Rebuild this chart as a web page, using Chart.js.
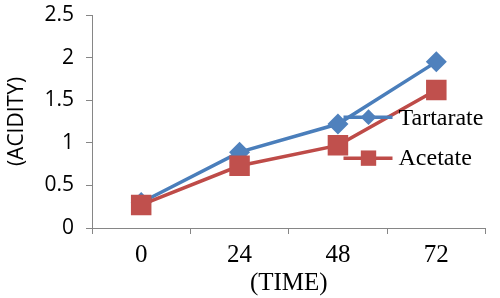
<!DOCTYPE html>
<html>
<head>
<meta charset="utf-8">
<script src="https://cdn.jsdelivr.net/npm/chart.js@4"></script>
<style>
  html, body { margin: 0; padding: 0; background: #fff; overflow: hidden; }
  #wrap { width: 500px; height: 298px; }
</style>
</head>
<body>
<div id="wrap"><canvas id="acidityChart"></canvas></div>
<script>
const times = ['0', '24', '48', '72'];
const tartarate = [0.30, 0.89, 1.22, 1.95];
const acetate = [0.27, 0.73, 0.97, 1.62];
const yTicks = [0, 0.5, 1, 1.5, 2, 2.5];

const serif = '"Liberation Serif", "Times New Roman", Times, serif';
const sans = '"Open Sans", "Liberation Sans", sans-serif';

// legend drawn inside the plot, to the right, like the original
const insideLegend = {
    id: 'insideLegend',
    afterDatasetsDraw(chart) {
        const ctx = chart.ctx;
        const area = chart.chartArea;
        const x0 = area.right - 142;
        const rows = [
            { ds: chart.data.datasets[0], y: chart.scales.y.getPixelForValue(1.3) },
            { ds: chart.data.datasets[1], y: chart.scales.y.getPixelForValue(0.82) }
        ];
        ctx.save();
        rows.forEach(r => {
            ctx.strokeStyle = r.ds.borderColor;
            ctx.lineWidth = r.ds.borderWidth;
            ctx.beginPath();
            ctx.moveTo(x0, r.y);
            ctx.lineTo(x0 + 49, r.y);
            ctx.stroke();
            ctx.fillStyle = r.ds.backgroundColor;
            Chart.helpers.drawPoint(ctx, {
                pointStyle: r.ds.pointStyle,
                radius: r.ds.pointRadius * 0.75,
                borderWidth: 0
            }, x0 + 25, r.y);
            ctx.fillStyle = '#000';
            ctx.font = '24px ' + serif;
            ctx.textBaseline = 'middle';
            ctx.fillText(r.ds.label, x0 + 55, r.y + 1);
        });
        ctx.restore();
    }
};

const ctx = document.getElementById('acidityChart').getContext('2d');
const acidityChart = new Chart(ctx, {
    type: 'line',
    data: {
        labels: times,
        datasets: [{
            label: 'Tartarate',
            data: tartarate,
            borderColor: '#4A7EBB',
            backgroundColor: '#4F81BD',
            borderWidth: 3.5,
            pointStyle: 'rectRot',
            pointRadius: 10.5,
            pointBorderWidth: 0,
            order: 1
        }, {
            label: 'Acetate',
            data: acetate,
            borderColor: '#BE4B48',
            backgroundColor: '#C0504D',
            borderWidth: 3.5,
            pointStyle: 'rect',
            pointRadius: 14.5,
            pointBorderWidth: 0,
            order: 0
        }]
    },
    options: {
        responsive: true,
        maintainAspectRatio: false,
        animation: false,
        // right padding compensates for extra space the layout keeps at the right
        layout: { padding: { top: 15, right: -4.5, left: 4, bottom: 0 } },
        scales: {
            x: {
                offset: true,
                afterFit: axis => { axis.paddingLeft = 0; axis.paddingRight = 0; },
                grid: {
                    offset: true,
                    drawOnChartArea: false,
                    color: '#868686',
                    tickLength: 6
                },
                border: { color: '#868686', width: 1 },
                ticks: {
                    color: '#000',
                    padding: 6,
                    font: { family: serif, size: 25 }
                },
                title: {
                    display: true,
                    text: '(TIME)',
                    color: '#000',
                    padding: { top: -8, bottom: 0 },
                    font: { family: serif, size: 25 }
                }
            },
            y: {
                min: 0,
                max: 2.5,
                afterBuildTicks: axis => { axis.ticks = yTicks.map(v => ({ value: v })); },
                afterFit: axis => { axis.width = 88; axis.paddingTop = 0; axis.paddingBottom = 0; },
                grid: {
                    drawOnChartArea: false,
                    color: '#868686',
                    tickLength: 6
                },
                border: { color: '#868686', width: 1 },
                ticks: {
                    color: '#000',
                    padding: 12,
                    callback: v => String(v),
                    font: { family: sans, size: 21 }
                },
                title: {
                    display: true,
                    text: '(ACIDITY)',
                    color: '#000',
                    padding: { top: 0, bottom: 2 },
                    font: { family: sans, size: 21 }
                }
            }
        },
        plugins: {
            legend: { display: false },
            tooltip: { enabled: false }
        }
    },
    plugins: [insideLegend]
});
</script>
</body>
</html>
